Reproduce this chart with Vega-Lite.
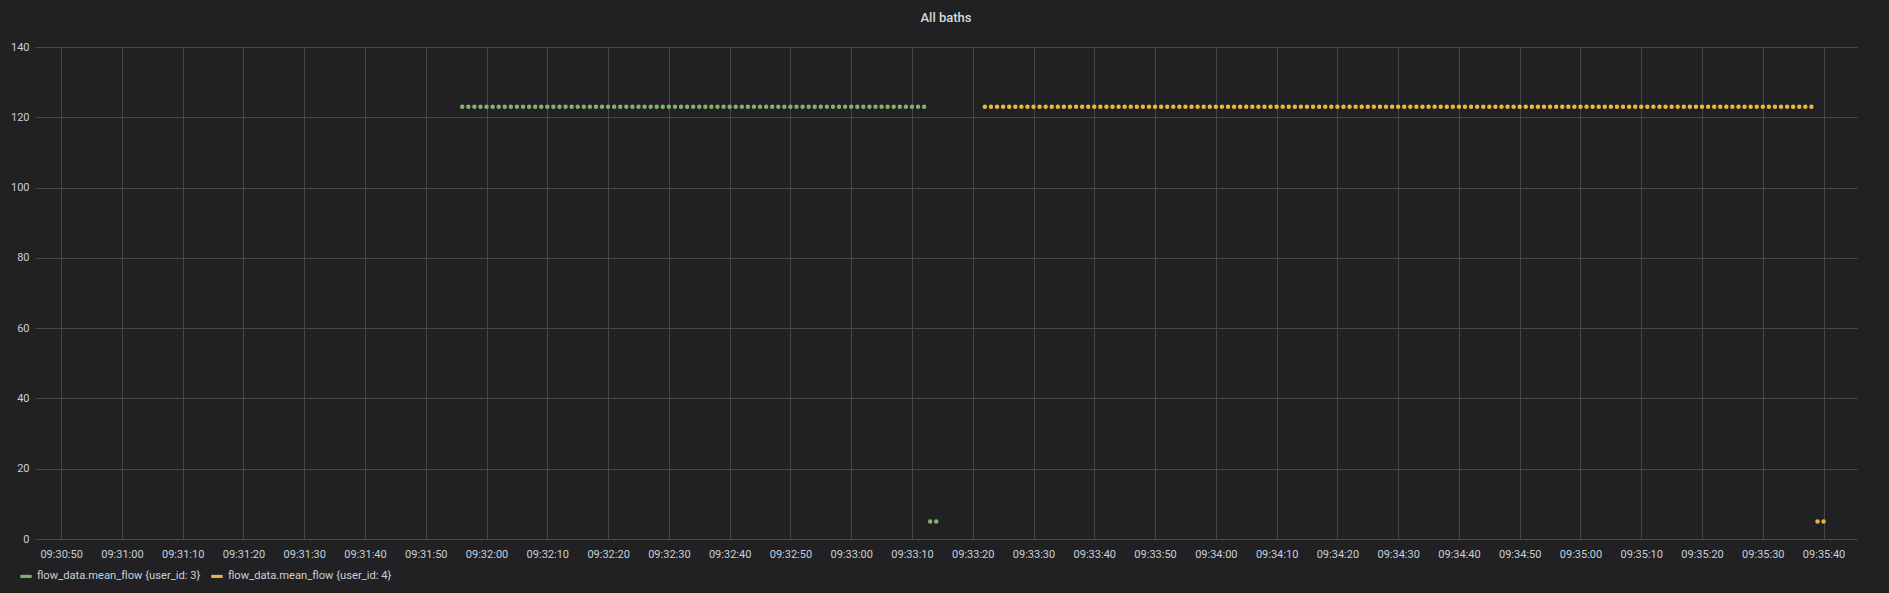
{
  "$schema": "https://vega.github.io/schema/vega-lite/v6.json",
  "width": 1822,
  "height": 492,
  "autosize": "none",
  "padding": {"left": 35, "top": 47, "right": 32, "bottom": 54},
  "background": "#212124",
  "config": {
    "view": {"stroke": null},
    "font": "Roboto",
    "axis": {"labelFont": "Roboto", "labelColor": "#c7d0d9", "labelFontSize": 11, "gridColor": "#46464a", "gridOpacity": 1, "gridWidth": 1, "domain": false, "ticks": false, "title": null}
  },
  "title": {"text": "All baths", "color": "#d8d9da", "font": "Roboto", "fontSize": 13, "fontWeight": 500, "anchor": "middle", "offset": 16},
  "data": {"values": [
    {"t": "2021-01-01T09:31:56", "v": 123, "user_id": 3},
    {"t": "2021-01-01T09:31:57", "v": 123, "user_id": 3},
    {"t": "2021-01-01T09:31:58", "v": 123, "user_id": 3},
    {"t": "2021-01-01T09:31:59", "v": 123, "user_id": 3},
    {"t": "2021-01-01T09:32:00", "v": 123, "user_id": 3},
    {"t": "2021-01-01T09:32:01", "v": 123, "user_id": 3},
    {"t": "2021-01-01T09:32:02", "v": 123, "user_id": 3},
    {"t": "2021-01-01T09:32:03", "v": 123, "user_id": 3},
    {"t": "2021-01-01T09:32:04", "v": 123, "user_id": 3},
    {"t": "2021-01-01T09:32:05", "v": 123, "user_id": 3},
    {"t": "2021-01-01T09:32:06", "v": 123, "user_id": 3},
    {"t": "2021-01-01T09:32:07", "v": 123, "user_id": 3},
    {"t": "2021-01-01T09:32:08", "v": 123, "user_id": 3},
    {"t": "2021-01-01T09:32:09", "v": 123, "user_id": 3},
    {"t": "2021-01-01T09:32:10", "v": 123, "user_id": 3},
    {"t": "2021-01-01T09:32:11", "v": 123, "user_id": 3},
    {"t": "2021-01-01T09:32:12", "v": 123, "user_id": 3},
    {"t": "2021-01-01T09:32:13", "v": 123, "user_id": 3},
    {"t": "2021-01-01T09:32:14", "v": 123, "user_id": 3},
    {"t": "2021-01-01T09:32:15", "v": 123, "user_id": 3},
    {"t": "2021-01-01T09:32:16", "v": 123, "user_id": 3},
    {"t": "2021-01-01T09:32:17", "v": 123, "user_id": 3},
    {"t": "2021-01-01T09:32:18", "v": 123, "user_id": 3},
    {"t": "2021-01-01T09:32:19", "v": 123, "user_id": 3},
    {"t": "2021-01-01T09:32:20", "v": 123, "user_id": 3},
    {"t": "2021-01-01T09:32:21", "v": 123, "user_id": 3},
    {"t": "2021-01-01T09:32:22", "v": 123, "user_id": 3},
    {"t": "2021-01-01T09:32:23", "v": 123, "user_id": 3},
    {"t": "2021-01-01T09:32:24", "v": 123, "user_id": 3},
    {"t": "2021-01-01T09:32:25", "v": 123, "user_id": 3},
    {"t": "2021-01-01T09:32:26", "v": 123, "user_id": 3},
    {"t": "2021-01-01T09:32:27", "v": 123, "user_id": 3},
    {"t": "2021-01-01T09:32:28", "v": 123, "user_id": 3},
    {"t": "2021-01-01T09:32:29", "v": 123, "user_id": 3},
    {"t": "2021-01-01T09:32:30", "v": 123, "user_id": 3},
    {"t": "2021-01-01T09:32:31", "v": 123, "user_id": 3},
    {"t": "2021-01-01T09:32:32", "v": 123, "user_id": 3},
    {"t": "2021-01-01T09:32:33", "v": 123, "user_id": 3},
    {"t": "2021-01-01T09:32:34", "v": 123, "user_id": 3},
    {"t": "2021-01-01T09:32:35", "v": 123, "user_id": 3},
    {"t": "2021-01-01T09:32:36", "v": 123, "user_id": 3},
    {"t": "2021-01-01T09:32:37", "v": 123, "user_id": 3},
    {"t": "2021-01-01T09:32:38", "v": 123, "user_id": 3},
    {"t": "2021-01-01T09:32:39", "v": 123, "user_id": 3},
    {"t": "2021-01-01T09:32:40", "v": 123, "user_id": 3},
    {"t": "2021-01-01T09:32:41", "v": 123, "user_id": 3},
    {"t": "2021-01-01T09:32:42", "v": 123, "user_id": 3},
    {"t": "2021-01-01T09:32:43", "v": 123, "user_id": 3},
    {"t": "2021-01-01T09:32:44", "v": 123, "user_id": 3},
    {"t": "2021-01-01T09:32:45", "v": 123, "user_id": 3},
    {"t": "2021-01-01T09:32:46", "v": 123, "user_id": 3},
    {"t": "2021-01-01T09:32:47", "v": 123, "user_id": 3},
    {"t": "2021-01-01T09:32:48", "v": 123, "user_id": 3},
    {"t": "2021-01-01T09:32:49", "v": 123, "user_id": 3},
    {"t": "2021-01-01T09:32:50", "v": 123, "user_id": 3},
    {"t": "2021-01-01T09:32:51", "v": 123, "user_id": 3},
    {"t": "2021-01-01T09:32:52", "v": 123, "user_id": 3},
    {"t": "2021-01-01T09:32:53", "v": 123, "user_id": 3},
    {"t": "2021-01-01T09:32:54", "v": 123, "user_id": 3},
    {"t": "2021-01-01T09:32:55", "v": 123, "user_id": 3},
    {"t": "2021-01-01T09:32:56", "v": 123, "user_id": 3},
    {"t": "2021-01-01T09:32:57", "v": 123, "user_id": 3},
    {"t": "2021-01-01T09:32:58", "v": 123, "user_id": 3},
    {"t": "2021-01-01T09:32:59", "v": 123, "user_id": 3},
    {"t": "2021-01-01T09:33:00", "v": 123, "user_id": 3},
    {"t": "2021-01-01T09:33:01", "v": 123, "user_id": 3},
    {"t": "2021-01-01T09:33:02", "v": 123, "user_id": 3},
    {"t": "2021-01-01T09:33:03", "v": 123, "user_id": 3},
    {"t": "2021-01-01T09:33:04", "v": 123, "user_id": 3},
    {"t": "2021-01-01T09:33:05", "v": 123, "user_id": 3},
    {"t": "2021-01-01T09:33:06", "v": 123, "user_id": 3},
    {"t": "2021-01-01T09:33:07", "v": 123, "user_id": 3},
    {"t": "2021-01-01T09:33:08", "v": 123, "user_id": 3},
    {"t": "2021-01-01T09:33:09", "v": 123, "user_id": 3},
    {"t": "2021-01-01T09:33:10", "v": 123, "user_id": 3},
    {"t": "2021-01-01T09:33:11", "v": 123, "user_id": 3},
    {"t": "2021-01-01T09:33:12", "v": 123, "user_id": 3},
    {"t": "2021-01-01T09:33:13", "v": 5, "user_id": 3},
    {"t": "2021-01-01T09:33:14", "v": 5, "user_id": 3},
    {"t": "2021-01-01T09:33:22", "v": 123, "user_id": 4},
    {"t": "2021-01-01T09:33:23", "v": 123, "user_id": 4},
    {"t": "2021-01-01T09:33:24", "v": 123, "user_id": 4},
    {"t": "2021-01-01T09:33:25", "v": 123, "user_id": 4},
    {"t": "2021-01-01T09:33:26", "v": 123, "user_id": 4},
    {"t": "2021-01-01T09:33:27", "v": 123, "user_id": 4},
    {"t": "2021-01-01T09:33:28", "v": 123, "user_id": 4},
    {"t": "2021-01-01T09:33:29", "v": 123, "user_id": 4},
    {"t": "2021-01-01T09:33:30", "v": 123, "user_id": 4},
    {"t": "2021-01-01T09:33:31", "v": 123, "user_id": 4},
    {"t": "2021-01-01T09:33:32", "v": 123, "user_id": 4},
    {"t": "2021-01-01T09:33:33", "v": 123, "user_id": 4},
    {"t": "2021-01-01T09:33:34", "v": 123, "user_id": 4},
    {"t": "2021-01-01T09:33:35", "v": 123, "user_id": 4},
    {"t": "2021-01-01T09:33:36", "v": 123, "user_id": 4},
    {"t": "2021-01-01T09:33:37", "v": 123, "user_id": 4},
    {"t": "2021-01-01T09:33:38", "v": 123, "user_id": 4},
    {"t": "2021-01-01T09:33:39", "v": 123, "user_id": 4},
    {"t": "2021-01-01T09:33:40", "v": 123, "user_id": 4},
    {"t": "2021-01-01T09:33:41", "v": 123, "user_id": 4},
    {"t": "2021-01-01T09:33:42", "v": 123, "user_id": 4},
    {"t": "2021-01-01T09:33:43", "v": 123, "user_id": 4},
    {"t": "2021-01-01T09:33:44", "v": 123, "user_id": 4},
    {"t": "2021-01-01T09:33:45", "v": 123, "user_id": 4},
    {"t": "2021-01-01T09:33:46", "v": 123, "user_id": 4},
    {"t": "2021-01-01T09:33:47", "v": 123, "user_id": 4},
    {"t": "2021-01-01T09:33:48", "v": 123, "user_id": 4},
    {"t": "2021-01-01T09:33:49", "v": 123, "user_id": 4},
    {"t": "2021-01-01T09:33:50", "v": 123, "user_id": 4},
    {"t": "2021-01-01T09:33:51", "v": 123, "user_id": 4},
    {"t": "2021-01-01T09:33:52", "v": 123, "user_id": 4},
    {"t": "2021-01-01T09:33:53", "v": 123, "user_id": 4},
    {"t": "2021-01-01T09:33:54", "v": 123, "user_id": 4},
    {"t": "2021-01-01T09:33:55", "v": 123, "user_id": 4},
    {"t": "2021-01-01T09:33:56", "v": 123, "user_id": 4},
    {"t": "2021-01-01T09:33:57", "v": 123, "user_id": 4},
    {"t": "2021-01-01T09:33:58", "v": 123, "user_id": 4},
    {"t": "2021-01-01T09:33:59", "v": 123, "user_id": 4},
    {"t": "2021-01-01T09:34:00", "v": 123, "user_id": 4},
    {"t": "2021-01-01T09:34:01", "v": 123, "user_id": 4},
    {"t": "2021-01-01T09:34:02", "v": 123, "user_id": 4},
    {"t": "2021-01-01T09:34:03", "v": 123, "user_id": 4},
    {"t": "2021-01-01T09:34:04", "v": 123, "user_id": 4},
    {"t": "2021-01-01T09:34:05", "v": 123, "user_id": 4},
    {"t": "2021-01-01T09:34:06", "v": 123, "user_id": 4},
    {"t": "2021-01-01T09:34:07", "v": 123, "user_id": 4},
    {"t": "2021-01-01T09:34:08", "v": 123, "user_id": 4},
    {"t": "2021-01-01T09:34:09", "v": 123, "user_id": 4},
    {"t": "2021-01-01T09:34:10", "v": 123, "user_id": 4},
    {"t": "2021-01-01T09:34:11", "v": 123, "user_id": 4},
    {"t": "2021-01-01T09:34:12", "v": 123, "user_id": 4},
    {"t": "2021-01-01T09:34:13", "v": 123, "user_id": 4},
    {"t": "2021-01-01T09:34:14", "v": 123, "user_id": 4},
    {"t": "2021-01-01T09:34:15", "v": 123, "user_id": 4},
    {"t": "2021-01-01T09:34:16", "v": 123, "user_id": 4},
    {"t": "2021-01-01T09:34:17", "v": 123, "user_id": 4},
    {"t": "2021-01-01T09:34:18", "v": 123, "user_id": 4},
    {"t": "2021-01-01T09:34:19", "v": 123, "user_id": 4},
    {"t": "2021-01-01T09:34:20", "v": 123, "user_id": 4},
    {"t": "2021-01-01T09:34:21", "v": 123, "user_id": 4},
    {"t": "2021-01-01T09:34:22", "v": 123, "user_id": 4},
    {"t": "2021-01-01T09:34:23", "v": 123, "user_id": 4},
    {"t": "2021-01-01T09:34:24", "v": 123, "user_id": 4},
    {"t": "2021-01-01T09:34:25", "v": 123, "user_id": 4},
    {"t": "2021-01-01T09:34:26", "v": 123, "user_id": 4},
    {"t": "2021-01-01T09:34:27", "v": 123, "user_id": 4},
    {"t": "2021-01-01T09:34:28", "v": 123, "user_id": 4},
    {"t": "2021-01-01T09:34:29", "v": 123, "user_id": 4},
    {"t": "2021-01-01T09:34:30", "v": 123, "user_id": 4},
    {"t": "2021-01-01T09:34:31", "v": 123, "user_id": 4},
    {"t": "2021-01-01T09:34:32", "v": 123, "user_id": 4},
    {"t": "2021-01-01T09:34:33", "v": 123, "user_id": 4},
    {"t": "2021-01-01T09:34:34", "v": 123, "user_id": 4},
    {"t": "2021-01-01T09:34:35", "v": 123, "user_id": 4},
    {"t": "2021-01-01T09:34:36", "v": 123, "user_id": 4},
    {"t": "2021-01-01T09:34:37", "v": 123, "user_id": 4},
    {"t": "2021-01-01T09:34:38", "v": 123, "user_id": 4},
    {"t": "2021-01-01T09:34:39", "v": 123, "user_id": 4},
    {"t": "2021-01-01T09:34:40", "v": 123, "user_id": 4},
    {"t": "2021-01-01T09:34:41", "v": 123, "user_id": 4},
    {"t": "2021-01-01T09:34:42", "v": 123, "user_id": 4},
    {"t": "2021-01-01T09:34:43", "v": 123, "user_id": 4},
    {"t": "2021-01-01T09:34:44", "v": 123, "user_id": 4},
    {"t": "2021-01-01T09:34:45", "v": 123, "user_id": 4},
    {"t": "2021-01-01T09:34:46", "v": 123, "user_id": 4},
    {"t": "2021-01-01T09:34:47", "v": 123, "user_id": 4},
    {"t": "2021-01-01T09:34:48", "v": 123, "user_id": 4},
    {"t": "2021-01-01T09:34:49", "v": 123, "user_id": 4},
    {"t": "2021-01-01T09:34:50", "v": 123, "user_id": 4},
    {"t": "2021-01-01T09:34:51", "v": 123, "user_id": 4},
    {"t": "2021-01-01T09:34:52", "v": 123, "user_id": 4},
    {"t": "2021-01-01T09:34:53", "v": 123, "user_id": 4},
    {"t": "2021-01-01T09:34:54", "v": 123, "user_id": 4},
    {"t": "2021-01-01T09:34:55", "v": 123, "user_id": 4},
    {"t": "2021-01-01T09:34:56", "v": 123, "user_id": 4},
    {"t": "2021-01-01T09:34:57", "v": 123, "user_id": 4},
    {"t": "2021-01-01T09:34:58", "v": 123, "user_id": 4},
    {"t": "2021-01-01T09:34:59", "v": 123, "user_id": 4},
    {"t": "2021-01-01T09:35:00", "v": 123, "user_id": 4},
    {"t": "2021-01-01T09:35:01", "v": 123, "user_id": 4},
    {"t": "2021-01-01T09:35:02", "v": 123, "user_id": 4},
    {"t": "2021-01-01T09:35:03", "v": 123, "user_id": 4},
    {"t": "2021-01-01T09:35:04", "v": 123, "user_id": 4},
    {"t": "2021-01-01T09:35:05", "v": 123, "user_id": 4},
    {"t": "2021-01-01T09:35:06", "v": 123, "user_id": 4},
    {"t": "2021-01-01T09:35:07", "v": 123, "user_id": 4},
    {"t": "2021-01-01T09:35:08", "v": 123, "user_id": 4},
    {"t": "2021-01-01T09:35:09", "v": 123, "user_id": 4},
    {"t": "2021-01-01T09:35:10", "v": 123, "user_id": 4},
    {"t": "2021-01-01T09:35:11", "v": 123, "user_id": 4},
    {"t": "2021-01-01T09:35:12", "v": 123, "user_id": 4},
    {"t": "2021-01-01T09:35:13", "v": 123, "user_id": 4},
    {"t": "2021-01-01T09:35:14", "v": 123, "user_id": 4},
    {"t": "2021-01-01T09:35:15", "v": 123, "user_id": 4},
    {"t": "2021-01-01T09:35:16", "v": 123, "user_id": 4},
    {"t": "2021-01-01T09:35:17", "v": 123, "user_id": 4},
    {"t": "2021-01-01T09:35:18", "v": 123, "user_id": 4},
    {"t": "2021-01-01T09:35:19", "v": 123, "user_id": 4},
    {"t": "2021-01-01T09:35:20", "v": 123, "user_id": 4},
    {"t": "2021-01-01T09:35:21", "v": 123, "user_id": 4},
    {"t": "2021-01-01T09:35:22", "v": 123, "user_id": 4},
    {"t": "2021-01-01T09:35:23", "v": 123, "user_id": 4},
    {"t": "2021-01-01T09:35:24", "v": 123, "user_id": 4},
    {"t": "2021-01-01T09:35:25", "v": 123, "user_id": 4},
    {"t": "2021-01-01T09:35:26", "v": 123, "user_id": 4},
    {"t": "2021-01-01T09:35:27", "v": 123, "user_id": 4},
    {"t": "2021-01-01T09:35:28", "v": 123, "user_id": 4},
    {"t": "2021-01-01T09:35:29", "v": 123, "user_id": 4},
    {"t": "2021-01-01T09:35:30", "v": 123, "user_id": 4},
    {"t": "2021-01-01T09:35:31", "v": 123, "user_id": 4},
    {"t": "2021-01-01T09:35:32", "v": 123, "user_id": 4},
    {"t": "2021-01-01T09:35:33", "v": 123, "user_id": 4},
    {"t": "2021-01-01T09:35:34", "v": 123, "user_id": 4},
    {"t": "2021-01-01T09:35:35", "v": 123, "user_id": 4},
    {"t": "2021-01-01T09:35:36", "v": 123, "user_id": 4},
    {"t": "2021-01-01T09:35:37", "v": 123, "user_id": 4},
    {"t": "2021-01-01T09:35:38", "v": 123, "user_id": 4},
    {"t": "2021-01-01T09:35:39", "v": 5, "user_id": 4},
    {"t": "2021-01-01T09:35:40", "v": 5, "user_id": 4}
  ]},
  "mark": {"type": "point", "filled": true, "shape": "circle", "size": 20, "opacity": 1},
  "encoding": {
    "x": {
      "field": "t", "type": "temporal",
      "scale": {"domainMin": "2021-01-01T09:30:45.700", "domainMax": "2021-01-01T09:35:45.500"},
      "axis": {"format": "%H:%M:%S", "grid": true, "labelPadding": 9, "labelFlush": false, "labelOverlap": false,
        "values": [
          {"year": 2021, "month": 1, "date": 1, "hours": 9, "minutes": 30, "seconds": 50},
          {"year": 2021, "month": 1, "date": 1, "hours": 9, "minutes": 31, "seconds": 0},
          {"year": 2021, "month": 1, "date": 1, "hours": 9, "minutes": 31, "seconds": 10},
          {"year": 2021, "month": 1, "date": 1, "hours": 9, "minutes": 31, "seconds": 20},
          {"year": 2021, "month": 1, "date": 1, "hours": 9, "minutes": 31, "seconds": 30},
          {"year": 2021, "month": 1, "date": 1, "hours": 9, "minutes": 31, "seconds": 40},
          {"year": 2021, "month": 1, "date": 1, "hours": 9, "minutes": 31, "seconds": 50},
          {"year": 2021, "month": 1, "date": 1, "hours": 9, "minutes": 32, "seconds": 0},
          {"year": 2021, "month": 1, "date": 1, "hours": 9, "minutes": 32, "seconds": 10},
          {"year": 2021, "month": 1, "date": 1, "hours": 9, "minutes": 32, "seconds": 20},
          {"year": 2021, "month": 1, "date": 1, "hours": 9, "minutes": 32, "seconds": 30},
          {"year": 2021, "month": 1, "date": 1, "hours": 9, "minutes": 32, "seconds": 40},
          {"year": 2021, "month": 1, "date": 1, "hours": 9, "minutes": 32, "seconds": 50},
          {"year": 2021, "month": 1, "date": 1, "hours": 9, "minutes": 33, "seconds": 0},
          {"year": 2021, "month": 1, "date": 1, "hours": 9, "minutes": 33, "seconds": 10},
          {"year": 2021, "month": 1, "date": 1, "hours": 9, "minutes": 33, "seconds": 20},
          {"year": 2021, "month": 1, "date": 1, "hours": 9, "minutes": 33, "seconds": 30},
          {"year": 2021, "month": 1, "date": 1, "hours": 9, "minutes": 33, "seconds": 40},
          {"year": 2021, "month": 1, "date": 1, "hours": 9, "minutes": 33, "seconds": 50},
          {"year": 2021, "month": 1, "date": 1, "hours": 9, "minutes": 34, "seconds": 0},
          {"year": 2021, "month": 1, "date": 1, "hours": 9, "minutes": 34, "seconds": 10},
          {"year": 2021, "month": 1, "date": 1, "hours": 9, "minutes": 34, "seconds": 20},
          {"year": 2021, "month": 1, "date": 1, "hours": 9, "minutes": 34, "seconds": 30},
          {"year": 2021, "month": 1, "date": 1, "hours": 9, "minutes": 34, "seconds": 40},
          {"year": 2021, "month": 1, "date": 1, "hours": 9, "minutes": 34, "seconds": 50},
          {"year": 2021, "month": 1, "date": 1, "hours": 9, "minutes": 35, "seconds": 0},
          {"year": 2021, "month": 1, "date": 1, "hours": 9, "minutes": 35, "seconds": 10},
          {"year": 2021, "month": 1, "date": 1, "hours": 9, "minutes": 35, "seconds": 20},
          {"year": 2021, "month": 1, "date": 1, "hours": 9, "minutes": 35, "seconds": 30},
          {"year": 2021, "month": 1, "date": 1, "hours": 9, "minutes": 35, "seconds": 40}
        ]}
    },
    "y": {
      "field": "v", "type": "quantitative",
      "scale": {"domain": [0, 140], "nice": false},
      "axis": {"values": [0, 20, 40, 60, 80, 100, 120, 140], "grid": true, "labelPadding": 6}
    },
    "color": {
      "field": "user_id", "type": "nominal",
      "scale": {"domain": [3, 4], "range": ["#7EB26D", "#EAB839"]},
      "legend": {
        "title": null, "orient": "none", "direction": "horizontal",
        "legendX": -15, "legendY": 523,
        "labelExpr": "'flow_data.mean_flow {user_id: ' + datum.label + '}'",
        "labelFont": "Roboto", "labelFontSize": 11.2, "labelColor": "#c7d0d9", "labelLimit": 0,
        "symbolType": "M-1,-0.27H1V0.27H-1Z", "symbolSize": 130, "symbolStrokeWidth": 0,
        "labelOffset": 5, "columnPadding": 10
      }
    }
  }
}
